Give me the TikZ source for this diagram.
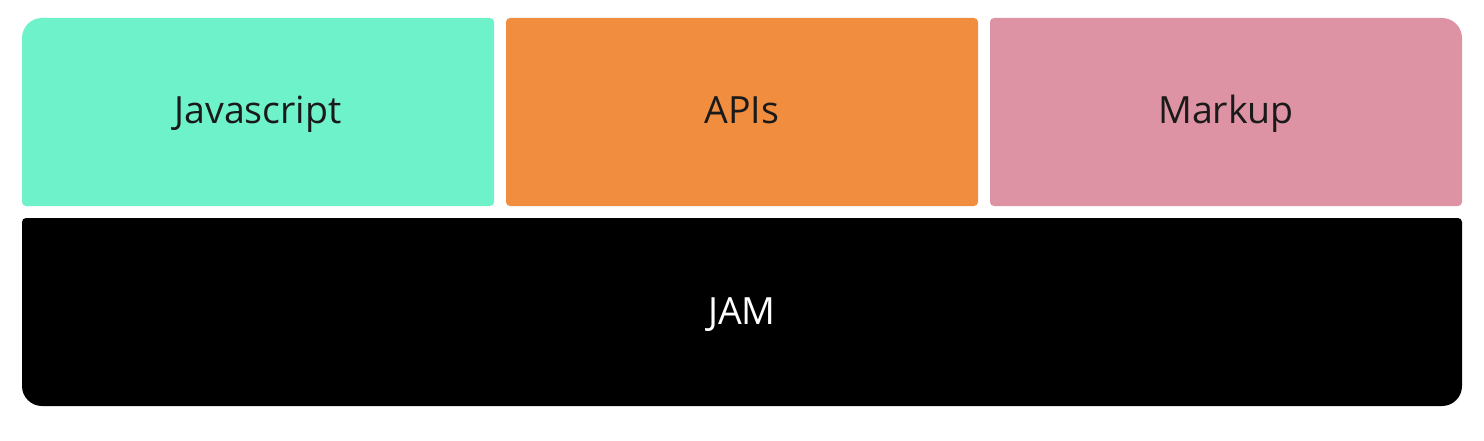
\documentclass[tikz,border=0pt]{standalone}
\usepackage{fontspec}
\setmainfont{Open Sans}
\definecolor{jscol}{HTML}{6EF2C9}
\definecolor{apicol}{HTML}{F08D3F}
\definecolor{mkcol}{HTML}{DD93A3}
\definecolor{txtcol}{HTML}{1A1A1A}
\newcommand\rbox[9]{% fill, x1,y1,x2,y2, rtl,rtr,rbr,rbl
  \fill[#1] (#2,#3+#9) -- (#2,#5-#6) arc[start angle=180,end angle=90,radius=#6]
    -- (#4-#7,#5) arc[start angle=90,end angle=0,radius=#7]
    -- (#4,#3+#8) arc[start angle=0,end angle=-90,radius=#8]
    -- (#2+#9,#3) arc[start angle=270,end angle=180,radius=#9] -- cycle;}
\tikzset{lbl/.style={font=\fontsize{37.5}{44}\selectfont, text=txtcol, inner sep=0pt, anchor=base}}
\begin{document}
\begin{tikzpicture}[x=1pt,y=1pt]
\useasboundingbox (0,0) rectangle (1484,440);
\rbox{jscol}{22}{234}{494}{422}{20}{4}{4}{4}
\rbox{apicol}{506}{234}{978}{422}{4}{4}{4}{4}
\rbox{mkcol}{990}{234}{1462}{422}{4}{20}{4}{4}
\rbox{black}{22}{34}{1462}{222}{4}{4}{20}{20}
\node[lbl] (js) at (258,316) {Javascript};
\node[lbl] (api) at (742,316) {APIs};
\node[lbl] (mk) at (1226,316) {Markup};
\node[lbl, text=white] (jam) at (742,116) {JAM};
\end{tikzpicture}
\end{document}
